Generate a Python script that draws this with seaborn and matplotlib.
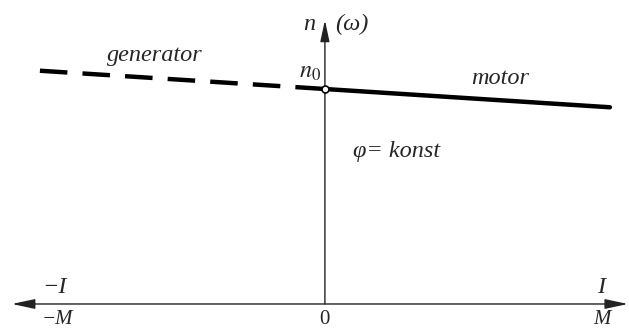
import pandas as pd
import matplotlib.pyplot as plt
import seaborn as sns

# torque (M, normalised) and speed n (n0 = 1) for the two operating regions
torque_gen = [-1.0, 0.0]
speed_gen = [1.085, 1.0]
torque_mot = [0.0, 1.0]
speed_mot = [1.0, 0.915]

df_gen = pd.DataFrame({'M': torque_gen, 'n': speed_gen})
df_mot = pd.DataFrame({'M': torque_mot, 'n': speed_mot})

sns.set_style('white')
plt.rcParams['font.family'] = ['Liberation Serif', 'DejaVu Serif']
plt.rcParams['mathtext.fontset'] = 'stix'

fig = plt.figure(figsize=(6.29, 3.30), dpi=100)
ax = fig.add_axes([0, 0, 1, 1])
ax.set_xlim(-1.14, 1.067)
ax.set_ylim(-0.121, 1.414)
ax.axis('off')

# axes with arrows
ax.annotate('', xy=(-1.098, 0), xytext=(1.063, 0),
            arrowprops=dict(arrowstyle='<|-|>,head_length=1.4,head_width=0.3',
                            color='#222222', lw=1.0, shrinkA=0, shrinkB=0))
ax.annotate('', xy=(0, 1.32), xytext=(0, 0),
            arrowprops=dict(arrowstyle='-|>,head_length=1.3,head_width=0.28',
                            color='#222222', lw=1.0, shrinkA=0, shrinkB=0))

# characteristic
sns.lineplot(data=df_gen, x='M', y='n', ax=ax, color='black', lw=3.2,
             linestyle=(0, (6.2, 3.4)))
sns.lineplot(data=df_mot, x='M', y='n', ax=ax, color='black', lw=3.2)
ax.plot([0], [1.0], marker='o', ms=5, mfc='white', mec='black', mew=1.2, zorder=5)

fs = 17.5
ax.text(-0.035, 1.30, 'n', fontsize=fs, style='italic', ha='right', va='center')
ax.text(0.035, 1.30, '(ω)', fontsize=fs, style='italic', ha='left', va='center')
ax.text(-0.012, 1.075, '$n_0$', fontsize=fs, ha='right', va='center')
ax.text(-0.596, 1.158, 'generator', fontsize=fs, style='italic', ha='center', va='center')
ax.text(0.614, 1.047, 'motor', fontsize=fs, style='italic', ha='center', va='center')
ax.text(0.098, 0.707, 'φ= konst', fontsize=fs, style='italic', ha='left', va='center')
ax.text(-0.95, 0.079, '−I', fontsize=fs, style='italic', ha='center', va='center')
ax.text(0.968, 0.079, 'I', fontsize=fs, style='italic', ha='center', va='center')
ax.text(-0.937, -0.117, '−M', fontsize=15, style='italic', ha='center', va='bottom')
ax.text(0.0, -0.117, '0', fontsize=15, ha='center', va='bottom')
ax.text(0.972, -0.117, 'M', fontsize=15, style='italic', ha='center', va='bottom')

fig.savefig('out.png', dpi=100)
